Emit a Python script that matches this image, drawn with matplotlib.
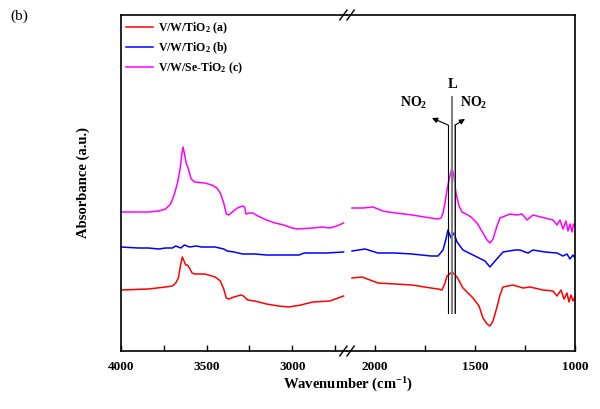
import matplotlib
matplotlib.use("Agg")
import matplotlib.pyplot as plt

plt.rcParams['font.family'] = ['Liberation Serif', 'DejaVu Serif']
plt.rcParams['font.weight'] = 'bold'
plt.rcParams['axes.labelweight'] = 'bold'
plt.rcParams['mathtext.default'] = 'regular'

# high wavenumber part (4000 - 2700 cm-1)
w_hi_c = [4000, 3840, 3780, 3740, 3710, 3690, 3670, 3655, 3645, 3638, 3630, 3620, 3610,
          3590, 3570, 3510, 3470, 3440, 3420, 3400, 3385, 3370, 3350, 3320, 3290, 3278,
          3270, 3250, 3230, 3200, 3150, 3100, 3050, 3000, 2970, 2880, 2820, 2780, 2740, 2700]
a_hi_c = [1.39, 1.39, 1.40, 1.42, 1.47, 1.56, 1.68, 1.82, 1.96, 2.04, 1.98, 1.88, 1.84,
          1.72, 1.69, 1.68, 1.66, 1.63, 1.58, 1.48, 1.37, 1.36, 1.39, 1.43, 1.45, 1.44,
          1.37, 1.38, 1.38, 1.35, 1.31, 1.28, 1.26, 1.23, 1.22, 1.23, 1.24, 1.23, 1.25, 1.28]

w_hi_b = [4000, 3900, 3840, 3780, 3740, 3700, 3680, 3650, 3630, 3600, 3560, 3530, 3450,
          3400, 3380, 3340, 3290, 3220, 3150, 3080, 3010, 2960, 2930, 2880, 2800, 2700]
a_hi_b = [1.04, 1.03, 1.03, 1.02, 1.03, 1.03, 1.05, 1.03, 1.06, 1.04, 1.05, 1.04, 1.04,
          1.02, 1.00, 0.99, 0.97, 0.97, 0.96, 0.96, 0.96, 0.96, 0.98, 0.98, 0.98, 0.99]

w_hi_a = [4000, 3840, 3740, 3700, 3680, 3665, 3652, 3642, 3632, 3622, 3612, 3600, 3585,
          3570, 3510, 3450, 3420, 3400, 3385, 3370, 3340, 3300, 3285, 3260, 3220, 3150,
          3080, 3020, 2950, 2880, 2780, 2700]
a_hi_a = [0.61, 0.62, 0.64, 0.65, 0.68, 0.73, 0.86, 0.94, 0.90, 0.86, 0.86, 0.83, 0.78,
          0.77, 0.77, 0.74, 0.70, 0.62, 0.53, 0.52, 0.54, 0.56, 0.55, 0.51, 0.50, 0.47,
          0.45, 0.44, 0.46, 0.49, 0.50, 0.55]

# low wavenumber part (2115 - 1000 cm-1)
w_lo_c = [2115, 2060, 2010, 1960, 1935, 1815, 1720, 1685, 1670, 1660, 1650, 1640, 1628,
          1615, 1605, 1595, 1580, 1565, 1545, 1520, 1490, 1460, 1440, 1425, 1410, 1390,
          1375, 1325, 1290, 1265, 1240, 1210, 1150, 1110, 1090, 1075, 1060, 1045, 1035,
          1025, 1015, 1008, 1000]
a_lo_c = [1.43, 1.43, 1.44, 1.40, 1.39, 1.36, 1.33, 1.32, 1.33, 1.38, 1.48, 1.61, 1.73,
          1.83, 1.74, 1.58, 1.45, 1.39, 1.37, 1.34, 1.28, 1.18, 1.11, 1.08, 1.12, 1.25,
          1.33, 1.37, 1.36, 1.37, 1.31, 1.36, 1.33, 1.31, 1.26, 1.31, 1.22, 1.30, 1.20,
          1.27, 1.19, 1.27, 1.24]

w_lo_b = [2115, 2050, 1985, 1900, 1815, 1720, 1685, 1660, 1645, 1635, 1620, 1605, 1590,
          1560, 1520, 1490, 1450, 1425, 1400, 1360, 1300, 1275, 1250, 1235, 1210, 1150,
          1090, 1060, 1040, 1025, 1010, 1000]
a_lo_b = [1.00, 1.02, 0.98, 0.98, 0.97, 0.95, 0.95, 1.01, 1.12, 1.21, 1.13, 1.18, 1.09,
          1.01, 0.97, 0.94, 0.90, 0.84, 0.90, 0.99, 1.01, 1.01, 0.99, 0.98, 1.01, 0.99,
          0.98, 0.95, 0.97, 0.92, 0.96, 0.93]

w_lo_a = [2115, 2065, 1985, 1900, 1815, 1720, 1685, 1665, 1650, 1640, 1615, 1590, 1560,
          1510, 1480, 1460, 1440, 1425, 1410, 1390, 1375, 1360, 1310, 1260, 1225, 1160,
          1110, 1090, 1070, 1055, 1040, 1030, 1020, 1010, 1000]
a_lo_a = [0.73, 0.74, 0.68, 0.67, 0.66, 0.63, 0.62, 0.61, 0.68, 0.75, 0.79, 0.74, 0.63,
          0.53, 0.45, 0.33, 0.27, 0.25, 0.30, 0.44, 0.56, 0.64, 0.66, 0.63, 0.64, 0.61,
          0.60, 0.55, 0.61, 0.52, 0.58, 0.49, 0.56, 0.50, 0.54]

labels = ['V/W/TiO$_2$ (a)', 'V/W/TiO$_2$ (b)', 'V/W/Se-TiO$_2$ (c)']
colors = ['#ff0000', '#0000ff', '#ff00ff']

fig = plt.figure(figsize=(6.0, 4.09), dpi=100)
ax1 = fig.add_axes([121/600, 58/409, 226/600, 336/409])
ax2 = fig.add_axes([347/600, 58/409, 228/600, 336/409])

hi = [(w_hi_a, a_hi_a), (w_hi_b, a_hi_b), (w_hi_c, a_hi_c)]
lo = [(w_lo_a, a_lo_a), (w_lo_b, a_lo_b), (w_lo_c, a_lo_c)]
for (wh, ah), (wl, al), col, lb in zip(hi, lo, colors, labels):
    ax1.plot(wh, ah, color=col, lw=1.1, label=lb)
    ax2.plot(wl, al, color=col, lw=1.1)

ax1.set_xlim(4000, 2680)
ax2.set_xlim(2140, 1000)
for ax in (ax1, ax2):
    ax.set_ylim(0, 3.36)
    ax.set_yticks([])
    ax.tick_params(axis='x', direction='in', length=4, width=1, labelsize=9.5, pad=7)
    ax.tick_params(axis='x', which='minor', direction='in', length=4, width=1)
    for s in ax.spines.values():
        s.set_linewidth(1.2)
ax1.spines['right'].set_visible(False)
ax2.spines['left'].set_visible(False)
ax1.set_xticks([4000, 3500, 3000])
ax1.set_xticks([3750, 3250, 2750], minor=True)
ax2.set_xticks([2000, 1500, 1000])
ax2.set_xticks([1750, 1250], minor=True)

# break marks
for yb in (0.0, 1.0):
    for dx in (-0.006, 0.006):
        fig.add_artist(plt.Line2D([347/600 + dx - 0.006, 347/600 + dx + 0.006],
                                  [(58 + 336*yb)/409 - 0.012, (58 + 336*yb)/409 + 0.012],
                                  color='black', lw=1.0))

# NO2 / L markers
ax2.plot([1635, 1635], [0.38, 2.26], color='black', lw=0.8)
ax2.plot([1615, 1615], [0.38, 2.54], color='gray', lw=1.5)
ax2.plot([1602, 1602], [0.38, 2.26], color='gray', lw=1.2)
ax2.plot([1598, 1598], [0.38, 2.26], color='black', lw=0.6)
ax2.annotate('', xy=(1715, 2.33), xytext=(1635, 2.26),
             arrowprops=dict(arrowstyle='-|>', color='black', lw=0.8, mutation_scale=8,
                             shrinkA=0, shrinkB=0))
ax2.annotate('', xy=(1550, 2.32), xytext=(1598, 2.26),
             arrowprops=dict(arrowstyle='-|>', color='black', lw=0.8, mutation_scale=8,
                             shrinkA=0, shrinkB=0))
ax2.text(1805, 2.48, 'NO$_2$', ha='center', va='center', fontsize=10)
ax2.text(1505, 2.48, 'NO$_2$', ha='center', va='center', fontsize=10)
ax2.text(1612, 2.66, 'L', ha='center', va='center', fontsize=10.5)

ax1.legend(loc='upper left', frameon=False, fontsize=8.5, handlelength=2.3,
           handletextpad=0.4, labelspacing=0.38, borderaxespad=0.05, borderpad=0.4)

ax1.set_ylabel('Absorbance (a.u.)', fontsize=10.5)
ax1.yaxis.set_label_coords(-0.135, 0.5)
fig.text(348/600, 1 - 385/409, 'Wavenumber (cm$^{-1}$)', ha='center', va='center',
         fontsize=10.5)
fig.text(10/600, 1 - 16/409, '(b)', ha='left', va='center', fontsize=11,
         fontweight='normal')

fig.savefig('out.png', dpi=100)
